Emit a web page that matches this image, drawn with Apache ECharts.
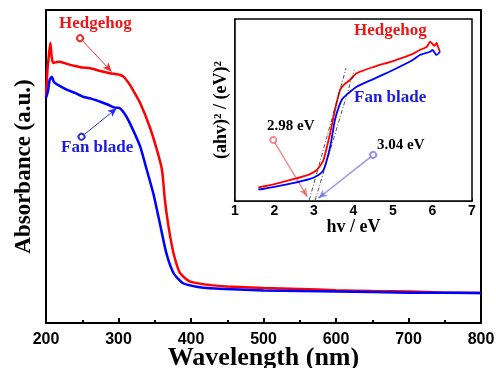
<!DOCTYPE html>
<html style="height: 100%;">
<head>
    <meta charset="UTF-8">
    <title></title>
    <script src="https://cdn.jsdelivr.net/npm/echarts@6/dist/echarts.min.js"></script>
</head>
<body style="height: 100%;margin: 0;background:#fff;">
	<div id="container" style="width:496px;height:368px;"></div>
    <script type="text/javascript">
      	// main UV-vis curves (absorbance, arbitrary units 0..1)
      	var wlRed  = [200,202,204,206,208,210,215,219,230,240,250,261,275,288,300,307,316,320,330,343,353,360,364,369,376,385,399,426,450,500,550,600,650,700,750,800];
      	var absRed = [0.722,0.808,0.856,0.895,0.847,0.831,0.834,0.835,0.827,0.821,0.816,0.814,0.805,0.798,0.794,0.787,0.760,0.744,0.702,0.627,0.553,0.489,0.393,0.308,0.222,0.159,0.132,0.121,0.117,0.112,0.109,0.105,0.102,0.101,0.097,0.096];
      	var wlBlue  = [200,203,205,208,211,217,230,240,251,263,275,285,295,302,311,320,330,339,348,357,366,376,389,410,426,500,600,700,800];
      	var absBlue = [0.719,0.744,0.776,0.787,0.770,0.760,0.744,0.735,0.723,0.716,0.707,0.698,0.688,0.686,0.659,0.617,0.563,0.489,0.414,0.319,0.223,0.159,0.127,0.115,0.111,0.104,0.101,0.097,0.096];

      	// inset Tauc plot
      	var evRed   = [1.59,2.0,2.5,2.9,3.07,3.15,3.24,3.41,3.53,3.66,3.78,3.91,4.08,4.5,5.0,5.5,5.68,5.85,5.94,6.0,6.05,6.1,6.15,6.19];
      	var taucRed = [0.075,0.093,0.121,0.148,0.170,0.192,0.225,0.374,0.500,0.610,0.643,0.665,0.702,0.736,0.769,0.808,0.830,0.846,0.875,0.863,0.852,0.868,0.841,0.820];
      	var evBlue   = [1.59,1.7,2.0,2.5,2.9,3.07,3.24,3.41,3.53,3.70,3.87,4.08,4.5,5.0,5.5,5.68,5.94,6.0,6.1,6.19];
      	var taucBlue = [0.064,0.066,0.077,0.099,0.121,0.137,0.170,0.298,0.445,0.555,0.592,0.628,0.670,0.720,0.775,0.802,0.820,0.830,0.802,0.820];
      	var tangentRed  = [[2.88,0.005],[3.81,0.729]];
      	var tangentBlue = [[3.03,0.005],[4.02,0.720]];

      	var wlTicks = [200,300,400,500,600,700,800];
      	var evTicks = [1,2,3,4,5,6,7];

      	function zip(xs, ys){
      		var out = [];
      		for(var i=0;i<xs.length;i++){ out.push([xs[i], ys[i]]); }
      		return out;
      	}
      	function arrow(from, to, color, width){
      		return {
      			silent: true,
      			symbol: ['emptyCircle','arrow'],
      			symbolSize: [6,9],
      			label: {show:false},
      			lineStyle: {color: color, width: width, type: 'solid'},
      			data: [[{coord: from}, {coord: to}]]
      		};
      	}

      	var serif = '"Liberation Serif","DejaVu Serif",serif';
      	var sans = '"Liberation Sans",Arial,sans-serif';

      	var myChart = echarts.init(document.getElementById('container'));
      	var option = {
      		animation: false,
      		grid: [
      			{left: 46, right: 15, top: 10, bottom: 45, outerBoundsMode: 'none', show: true, borderColor: '#000', borderWidth: 2},
      			{left: 235, right: 24, top: 19, bottom: 167, outerBoundsMode: 'none', show: true, borderColor: '#000', borderWidth: 1.5, backgroundColor: '#fff', z: 5}
      		],
      		xAxis: [
      			{
      				gridIndex: 0, type: 'value', min: 200, max: 800, interval: 100,
      				name: 'Wavelength (nm)', nameLocation: 'middle', nameGap: 22, nameMoveOverlap: false,
      				nameTextStyle: {fontFamily: serif, fontWeight: 'bold', fontSize: 26, color: '#000'},
      				axisLine: {lineStyle: {color: '#000', width: 2}},
      				axisTick: {inside: true, length: 5, lineStyle: {color: '#000', width: 2}},
      				minorTick: {show: true, splitNumber: 2, length: 3, lineStyle: {color: '#000', width: 2}},
      				axisLabel: {margin: 9, fontFamily: sans, fontWeight: 'bold', fontSize: 16, color: '#000',
      					formatter: function(v){ return wlTicks.indexOf(v) >= 0 ? String(v) : ''; }},
      				splitLine: {show: false}
      			},
      			{
      				gridIndex: 1, type: 'value', min: 1, max: 7, interval: 1,
      				name: 'hv / eV', nameLocation: 'middle', nameGap: 17, nameMoveOverlap: false,
      				nameTextStyle: {fontFamily: serif, fontWeight: 'bold', fontSize: 18, color: '#000'},
      				axisLine: {lineStyle: {color: '#000', width: 1.5}},
      				axisTick: {inside: true, length: 3, lineStyle: {color: '#000', width: 1.5}},
      				minorTick: {show: true, splitNumber: 2, length: 2, lineStyle: {color: '#000', width: 1.5}},
      				axisLabel: {margin: 3, fontFamily: sans, fontWeight: 'bold', fontSize: 14, color: '#000',
      					formatter: function(v){ return evTicks.indexOf(v) >= 0 ? String(v) : ''; }},
      				splitLine: {show: false}
      			}
      		],
      		yAxis: [
      			{
      				gridIndex: 0, type: 'value', min: 0, max: 1,
      				name: 'Absorbance (a.u.)', nameLocation: 'middle', nameGap: 10,
      				nameTextStyle: {fontFamily: serif, fontWeight: 'bold', fontSize: 23, color: '#000'},
      				axisLine: {show: true, lineStyle: {color: '#000', width: 2}},
      				axisTick: {show: false}, axisLabel: {show: false}, splitLine: {show: false}
      			},
      			{
      				gridIndex: 1, type: 'value', min: 0, max: 1,
      				name: '(ahv)² / (eV)²', nameLocation: 'middle', nameGap: 5,
      				nameTextStyle: {fontFamily: serif, fontWeight: 'bold', fontSize: 18, color: '#000'},
      				axisLine: {show: true, lineStyle: {color: '#000', width: 1.5}},
      				axisTick: {show: false}, axisLabel: {show: false}, splitLine: {show: false}
      			}
      		],
      		series: [
      			{
      				name: 'Hedgehog', type: 'line', xAxisIndex: 0, yAxisIndex: 0,
      				data: zip(wlRed, absRed), showSymbol: false, smooth: 0.2,
      				lineStyle: {color: '#ff0000', width: 2.5},
      				markLine: arrow([247,0.91],[290.6,0.803],'#e83030',1)
      			},
      			{
      				name: 'Fan blade', type: 'line', xAxisIndex: 0, yAxisIndex: 0,
      				data: zip(wlBlue, absBlue), showSymbol: false, smooth: 0.2,
      				lineStyle: {color: '#0000ff', width: 2.5},
      				markLine: arrow([249,0.595],[297.5,0.686],'#3030e0',1)
      			},
      			{
      				type: 'line', xAxisIndex: 1, yAxisIndex: 1, z: 6,
      				data: zip(evRed, taucRed), showSymbol: false, smooth: 0.2,
      				lineStyle: {color: '#ff0000', width: 1.8},
      				markLine: arrow([1.97,0.335],[2.83,0.024],'rgba(225,70,70,0.6)',1.5)
      			},
      			{
      				type: 'line', xAxisIndex: 1, yAxisIndex: 1, z: 6,
      				data: zip(evBlue, taucBlue), showSymbol: false, smooth: 0.2,
      				lineStyle: {color: '#0000ff', width: 1.8},
      				markLine: arrow([4.50,0.253],[3.11,0.015],'rgba(80,80,225,0.6)',1.5)
      			},
      			{
      				type: 'line', xAxisIndex: 1, yAxisIndex: 1, z: 6,
      				data: tangentRed, showSymbol: false,
      				lineStyle: {color: '#222', width: 0.8, type: [4,2,1,2]}
      			},
      			{
      				type: 'line', xAxisIndex: 1, yAxisIndex: 1, z: 6,
      				data: tangentBlue, showSymbol: false,
      				lineStyle: {color: '#222', width: 0.8, type: [4,2,1,2]}
      			}
      		],
      		graphic: [
      			{type: 'text', left: 59, top: 15, z: 10, style: {text: 'Hedgehog', fill: '#e81818', font: 'bold 17px ' + serif}},
      			{type: 'text', left: 61, top: 139, z: 10, style: {text: 'Fan blade', fill: '#1a1ae0', font: 'bold 17px ' + serif}},
      			{type: 'text', left: 354, top: 22, z: 10, style: {text: 'Hedgehog', fill: '#e81818', font: 'bold 17px ' + serif}},
      			{type: 'text', left: 354, top: 89, z: 10, style: {text: 'Fan blade', fill: '#1a1ae0', font: 'bold 17px ' + serif}},
      			{type: 'text', left: 267, top: 119, z: 10, style: {text: '2.98 eV', fill: '#000', font: 'bold 15px ' + serif}},
      			{type: 'text', left: 377, top: 138, z: 10, style: {text: '3.04 eV', fill: '#000', font: 'bold 15px ' + serif}}
      		]
      	};
      	myChart.setOption(option);
    </script>
</body>
</html>
